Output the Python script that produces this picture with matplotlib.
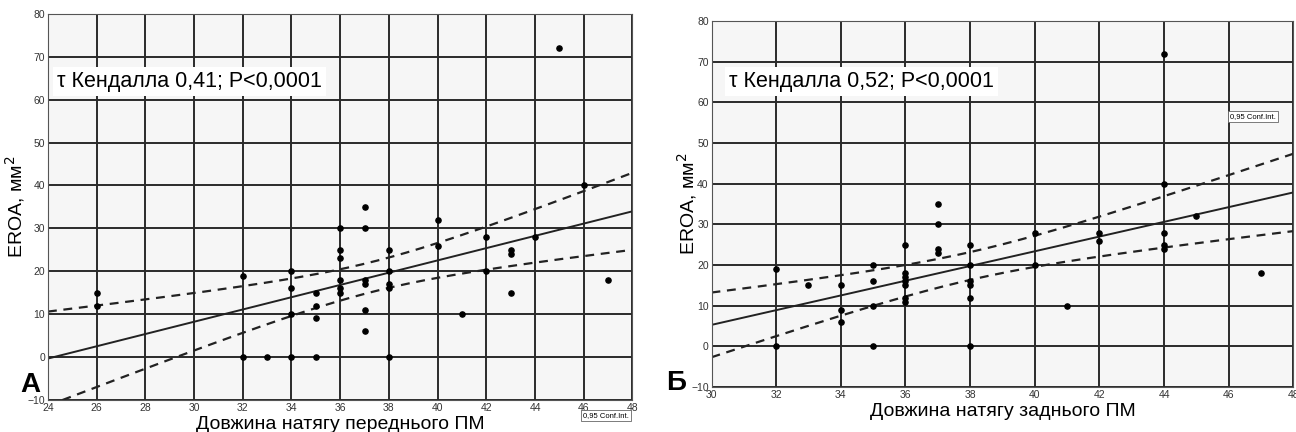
import matplotlib.pyplot as plt
import numpy as np

plt.rcParams['font.family'] = ['Liberation Sans', 'DejaVu Sans']

# передній ПМ (панель А)
ant_len = [26, 26, 32, 32, 33, 34, 34, 34, 34, 35, 35, 35, 35,
           36, 36, 36, 36, 36, 36, 37, 37, 37, 37, 37, 37,
           38, 38, 38, 38, 38, 40, 40, 41, 42, 42, 43, 43, 43,
           44, 45, 46, 47]
ant_eroa = [15, 12, 19, 0, 0, 20, 16, 10, 0, 15, 12, 9, 0,
            30, 25, 23, 18, 16, 15, 35, 30, 18, 17, 11, 6,
            25, 20, 17, 16, 0, 32, 26, 10, 28, 20, 25, 24, 15,
            28, 72, 40, 18]

# задній ПМ (панель Б)
post_len = [32, 32, 33, 34, 34, 34, 35, 35, 35, 35,
            36, 36, 36, 36, 36, 36, 36, 37, 37, 37, 37,
            38, 38, 38, 38, 38, 38, 40, 40, 41, 42, 42,
            44, 44, 44, 44, 44, 45, 47]
post_eroa = [19, 0, 15, 15, 9, 6, 20, 16, 10, 0,
             25, 18, 17, 16, 15, 12, 11, 35, 30, 24, 23,
             25, 20, 16, 15, 12, 0, 28, 20, 10, 28, 26,
             72, 40, 28, 25, 24, 32, 18]

ant_xticks = [24, 26, 28, 30, 32, 34, 36, 38, 40, 42, 44, 46, 48]
post_xticks = [30, 32, 34, 36, 38, 40, 42, 44, 46, 48]
yticks = [-10, 0, 10, 20, 30, 40, 50, 60, 70, 80]

t_crit = 2.02  # t(0.975, ~40 df)


def draw_panel(ax, x, y, xticks, xlabel, tau_text, tau_pos, letter, letter_pos, ylab_x):
    x = np.array(x, dtype=float)
    y = np.array(y, dtype=float)
    ax.set_facecolor('#f6f6f6')
    ax.set_xlim(xticks[0], xticks[-1])
    ax.set_ylim(-10, 80)
    ax.set_xticks(xticks)
    ax.set_yticks(yticks)
    ax.grid(True, color='#2a2a2a', linewidth=1.4)
    ax.set_axisbelow(True)
    for s in ax.spines.values():
        s.set_color('#555555')
        s.set_linewidth(0.8)
    ax.tick_params(length=0, labelsize=7.5, colors='#333333', pad=2)

    # лінійна регресія + 95% довірчий інтервал
    b, a = np.polyfit(x, y, 1)
    n = len(x)
    xm = x.mean()
    resid = y - (a + b * x)
    s = np.sqrt((resid ** 2).sum() / (n - 2))
    sxx = ((x - xm) ** 2).sum()
    xx = np.linspace(xticks[0], xticks[-1], 200)
    fit = a + b * xx
    hw = t_crit * s * np.sqrt(1 / n + (xx - xm) ** 2 / sxx)
    ax.plot(xx, fit, color='#222222', lw=1.4)
    ax.plot(xx, fit + hw, color='#222222', lw=1.6, ls=(0, (4, 3)))
    ax.plot(xx, fit - hw, color='#222222', lw=1.6, ls=(0, (4, 3)))

    ax.scatter(x, y, s=14, color='black', zorder=3)

    ax.text(tau_pos[0], tau_pos[1], tau_text, transform=ax.transAxes, fontsize=15.5,
            va='center', ha='left',
            bbox=dict(facecolor='white', edgecolor='none', pad=3))
    ax.set_ylabel('EROA, мм$^2$', fontsize=14)
    ax.yaxis.set_label_coords(ylab_x, 0.5)
    ax.set_xlabel(xlabel, fontsize=14, labelpad=2)
    ax.text(letter_pos[0], letter_pos[1], letter, transform=ax.transAxes, fontsize=20,
            fontweight='bold', ha='center', va='baseline')


fig = plt.figure(figsize=(12.96, 4.32), dpi=100)
ax1 = fig.add_axes([0.037, 0.074, 0.451, 0.894])
ax2 = fig.add_axes([0.549, 0.104, 0.449, 0.847])

draw_panel(ax1, ant_len, ant_eroa, ant_xticks, 'Довжина натягу переднього ПМ',
           'τ Кендалла 0,41; P<0,0001', (0.015, 0.824), 'А', (-0.03, 0.02), -0.036)
draw_panel(ax2, post_len, post_eroa, post_xticks, 'Довжина натягу заднього ПМ',
           'τ Кендалла 0,52; P<0,0001', (0.03, 0.836), 'Б', (-0.06, -0.008), -0.022)

ax1.text(0.955, -0.03, '0,95 Conf.Int.', transform=ax1.transAxes, fontsize=5.5,
         ha='center', va='top',
         bbox=dict(facecolor='white', edgecolor='#666666', lw=0.6, pad=1.5))
ax2.text(0.931, 0.74, '0,95 Conf.Int.', transform=ax2.transAxes, fontsize=5.5,
         ha='center', va='center',
         bbox=dict(facecolor='white', edgecolor='#666666', lw=0.6, pad=1.5))

fig.savefig('out.png', dpi=100)
